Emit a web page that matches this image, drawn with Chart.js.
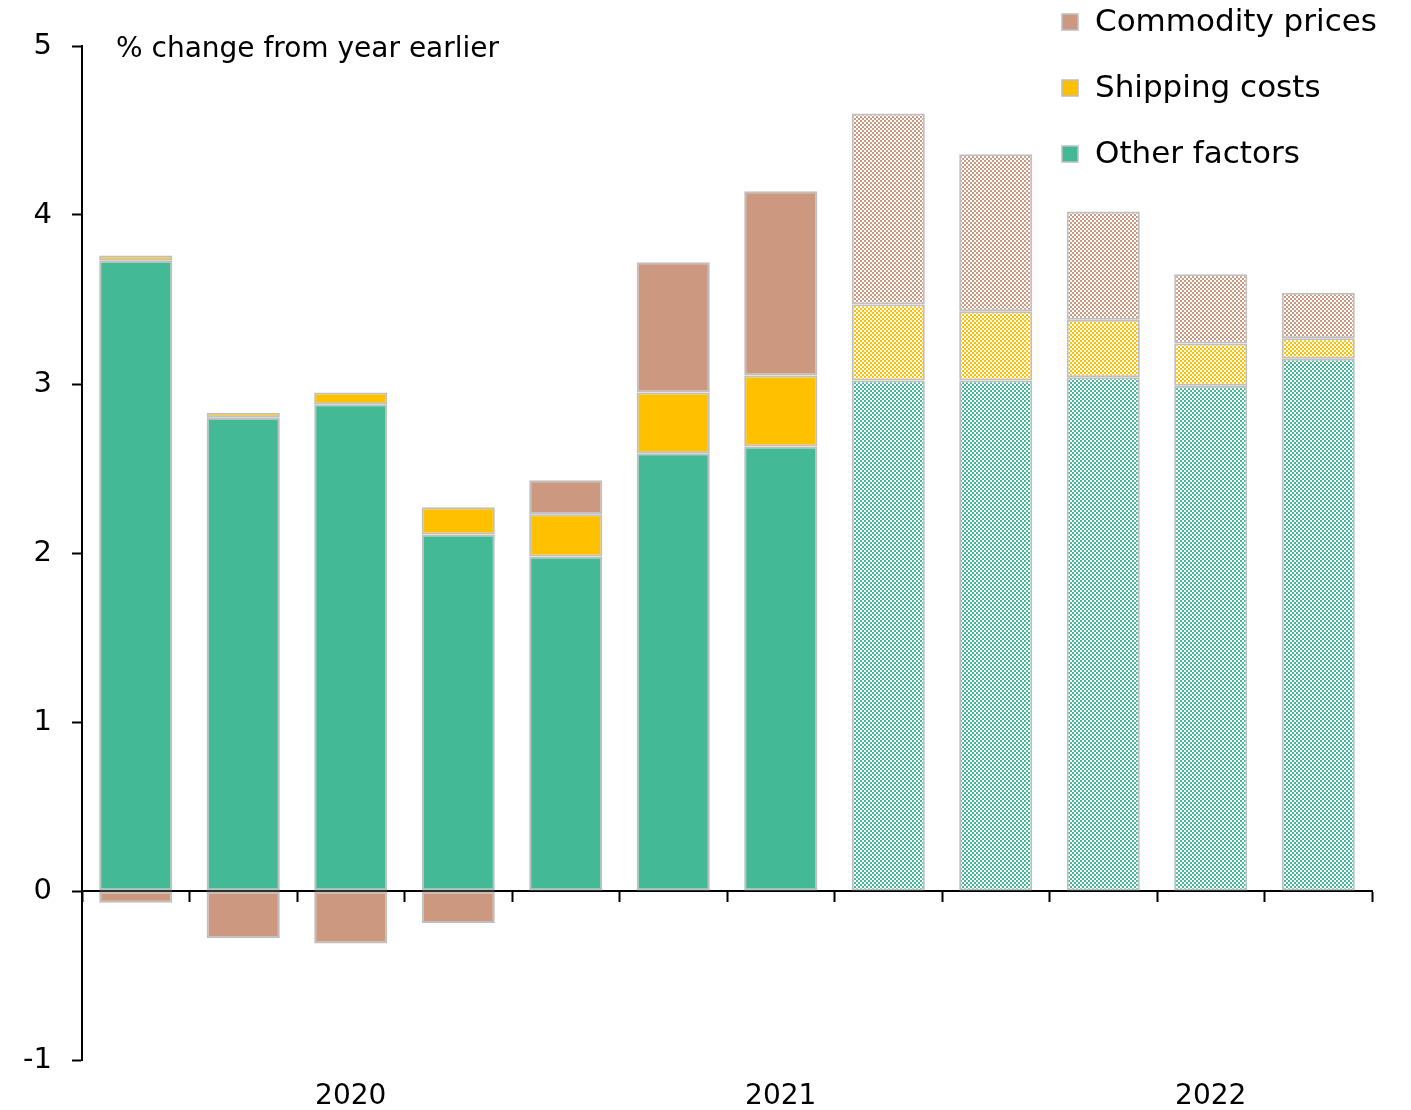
<!DOCTYPE html>
<html>
<head>
<meta charset="utf-8">
<script src="https://cdn.jsdelivr.net/npm/chart.js@4.4.1/dist/chart.umd.min.js"></script>
<style>
  html, body { margin: 0; padding: 0; background: #fff; }
  #wrap { width: 1411px; height: 1110px; }
</style>
</head>
<body>
<div id="wrap"><canvas id="contribChart" width="1411" height="1110"></canvas></div>
<script>
// quarters, 2019Q4 .. 2022Q3 (last five are projections)
const quarters = ['2019Q4', '2020Q1', '2020Q2', '2020Q3', '2020Q4', '2021Q1', '2021Q2',
                  '2021Q3', '2021Q4', '2022Q1', '2022Q2', '2022Q3'];
const yearLabels = ['', '', '2020', '', '', '', '2021', '', '', '', '2022', ''];
const firstForecast = 7;

const otherFactors   = [3.73, 2.80, 2.88, 2.11, 1.98, 2.59, 2.63, 3.02, 3.02, 3.04, 2.99, 3.15];
const shippingCosts  = [0.03, 0.03, 0.07, 0.16, 0.25, 0.36, 0.42, 0.45, 0.41, 0.34, 0.25, 0.12];
const commodityPrices = [-0.07, -0.28, -0.31, -0.19, 0.20, 0.77, 1.09, 1.13, 0.93, 0.64, 0.41, 0.27];

const yTicks = [-1, 0, 1, 2, 3, 4, 5];

const FONT = "'DejaVu Sans', sans-serif";
const EDGE = '#bfbfbf';

document.addEventListener('DOMContentLoaded', function() {
    const canvas = document.getElementById('contribChart');
    const ctx = canvas.getContext('2d');

    // checkerboard fill for the projection bars
    function hatch(color) {
        const c = document.createElement('canvas');
        c.width = 4; c.height = 4;
        const g = c.getContext('2d');
        g.fillStyle = '#ffffff';
        g.fillRect(0, 0, 4, 4);
        g.fillStyle = color;
        g.fillRect(0, 0, 2, 2);
        g.fillRect(2, 2, 2, 2);
        return ctx.createPattern(c, 'repeat');
    }

    function fills(color) {
        const p = hatch(color);
        return quarters.map((q, i) => i >= firstForecast ? p : color);
    }

    // legend + subtitle drawn by hand
    const extras = {
        id: 'extras',
        afterDraw(chart) {
            const c = chart.ctx;
            c.save();
            c.fillStyle = '#000';
            c.textBaseline = 'middle';
            c.font = '28px ' + FONT;
            c.fillText('% change from year earlier', 116, 50);

            const items = chart.data.datasets.slice().reverse();
            c.font = '31px ' + FONT;
            items.forEach((ds, i) => {
                const y = 22 + i * 66;
                c.fillStyle = ds.legendColor;
                c.fillRect(1062, y - 8, 16, 16);
                c.strokeStyle = EDGE;
                c.lineWidth = 1.5;
                c.strokeRect(1062, y - 8, 16, 16);
                c.fillStyle = '#000';
                c.fillText(ds.label, 1095, y + 1);
            });
            c.restore();
        }
    };

    new Chart(canvas, {
        type: 'bar',
        data: {
            labels: quarters,
            datasets: [{
                label: 'Other factors',
                data: otherFactors,
                legendColor: '#43b996',
                backgroundColor: fills('#43b996'),
                borderColor: EDGE,
                borderWidth: 2,
                borderSkipped: false
            }, {
                label: 'Shipping costs',
                data: shippingCosts,
                legendColor: '#ffc000',
                backgroundColor: fills('#ffc000'),
                borderColor: EDGE,
                borderWidth: 2,
                borderSkipped: false
            }, {
                label: 'Commodity prices',
                data: commodityPrices,
                legendColor: '#cc9980',
                backgroundColor: fills('#cc9980'),
                borderColor: EDGE,
                borderWidth: 2,
                borderSkipped: false
            }]
        },
        options: {
            responsive: false,
            animation: false,
            devicePixelRatio: 1,
            categoryPercentage: 1,
            barPercentage: 0.68,
            layout: { padding: { top: 46, right: 39, left: 0, bottom: 0 } },
            plugins: {
                legend: { display: false },
                tooltip: { enabled: false }
            },
            scales: {
                x: {
                    stacked: true,
                    position: { y: 0 },
                    offset: true,
                    grid: {
                        offset: true,
                        drawOnChartArea: false,
                        tickLength: 10,
                        tickColor: '#000',
                        tickWidth: 2
                    },
                    border: { display: true, color: '#000', width: 2 },
                    ticks: { display: false }
                },
                x2: {
                    type: 'category',
                    labels: yearLabels,
                    position: 'bottom',
                    offset: true,
                    grid: { display: false },
                    border: { display: false },
                    ticks: {
                        autoSkip: false,
                        maxRotation: 0,
                        color: '#000',
                        font: { family: FONT, size: 28 },
                        padding: 12
                    },
                    afterFit(scale) { scale.height = 50; }
                },
                y: {
                    stacked: true,
                    min: -1,
                    max: 5,
                    afterBuildTicks(scale) { scale.ticks = yTicks.map(v => ({ value: v })); },
                    grid: {
                        drawOnChartArea: false,
                        tickLength: 10,
                        tickColor: '#000',
                        tickWidth: 2
                    },
                    border: { display: true, color: '#000', width: 2 },
                    ticks: {
                        color: '#000',
                        font: { family: FONT, size: 29 },
                        padding: 20
                    },
                    afterFit(scale) { scale.width = 82; }
                }
            }
        },
        plugins: [extras]
    });
});
</script>
</body>
</html>
